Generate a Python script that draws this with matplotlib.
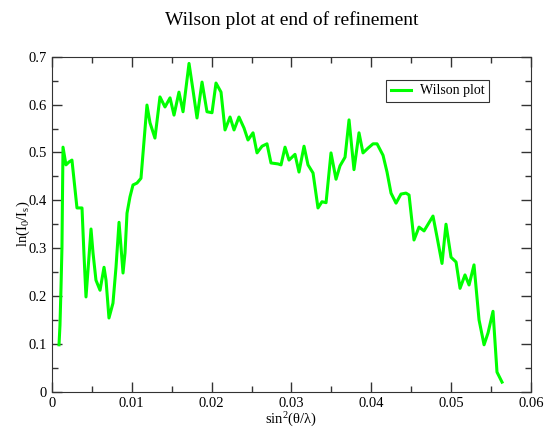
import matplotlib
matplotlib.use("Agg")
import matplotlib.pyplot as plt
from matplotlib.ticker import MultipleLocator, FuncFormatter

plt.rcParams['font.family'] = ['Liberation Serif', 'DejaVu Serif']
plt.rcParams['mathtext.fontset'] = 'custom'
plt.rcParams['mathtext.rm'] = 'Liberation Serif'
plt.rcParams['mathtext.default'] = 'regular'

# sin^2(theta/lambda) vs ln(I0/Is)
sin2 = [0.00088, 0.0010, 0.00113, 0.00125, 0.0013, 0.00138, 0.00175, 0.00213, 0.0025,
        0.00313, 0.00376, 0.0040, 0.00426, 0.00451, 0.00489, 0.00514, 0.00551, 0.00602,
        0.00652, 0.00677, 0.00714, 0.00764, 0.00802, 0.0084, 0.00865, 0.0089, 0.00915,
        0.0094, 0.00977, 0.01015, 0.01065, 0.01115, 0.0119, 0.01228, 0.0129, 0.01353,
        0.01416, 0.01479, 0.01529, 0.01591, 0.01642, 0.01717, 0.01767, 0.01817, 0.0188,
        0.01942, 0.02005, 0.02055, 0.02118, 0.02168, 0.02231, 0.02281, 0.02343, 0.02406,
        0.02456, 0.02519, 0.02569, 0.02632, 0.02694, 0.02744, 0.02832, 0.0287, 0.0292,
        0.0297, 0.03045, 0.03095, 0.03158, 0.03208, 0.03271, 0.03333, 0.03383, 0.03434,
        0.03496, 0.03559, 0.03609, 0.03672, 0.03722, 0.03784, 0.03847, 0.03897, 0.0396,
        0.04023, 0.04073, 0.04148, 0.04198, 0.04248, 0.04311, 0.04373, 0.04436, 0.04474,
        0.04536, 0.04599, 0.04662, 0.04774, 0.04825, 0.04887, 0.04937, 0.05, 0.05063,
        0.05113, 0.05175, 0.05226, 0.05288, 0.05351, 0.05414, 0.05464, 0.05526, 0.05576,
        0.05639]
ln_ratio = [0.098, 0.139, 0.218, 0.302, 0.386, 0.511, 0.474, 0.480, 0.484,
            0.384, 0.384, 0.290, 0.198, 0.254, 0.340, 0.290, 0.233, 0.212,
            0.260, 0.233, 0.154, 0.185, 0.260, 0.354, 0.302, 0.248, 0.290,
            0.373, 0.407, 0.432, 0.436, 0.446, 0.599, 0.562, 0.530, 0.616,
            0.595, 0.614, 0.578, 0.626, 0.585, 0.686, 0.630, 0.572, 0.647,
            0.585, 0.583, 0.645, 0.626, 0.547, 0.574, 0.547, 0.574, 0.551,
            0.526, 0.541, 0.499, 0.513, 0.518, 0.478, 0.476, 0.474, 0.511,
            0.484, 0.496, 0.459, 0.513, 0.474, 0.457, 0.384, 0.397, 0.395,
            0.499, 0.444, 0.472, 0.490, 0.568, 0.464, 0.541, 0.499, 0.509,
            0.518, 0.518, 0.494, 0.459, 0.415, 0.394, 0.413, 0.415, 0.411,
            0.317, 0.344, 0.336, 0.367, 0.323, 0.268, 0.350, 0.281, 0.271,
            0.216, 0.244, 0.223, 0.265, 0.150, 0.098, 0.123, 0.168, 0.041,
            0.020]

fig = plt.figure(figsize=(5.45, 4.33), dpi=100)
ax = fig.add_axes([0.0954, 0.0954, 0.8786, 0.7736])

ax.plot(sin2, ln_ratio, color='#00ff00', lw=2.2, label='Wilson plot')

ax.set_xlim(0, 0.06)
ax.set_ylim(0, 0.7)
ax.xaxis.set_major_locator(MultipleLocator(0.01))
ax.xaxis.set_minor_locator(MultipleLocator(0.005))
ax.yaxis.set_major_locator(MultipleLocator(0.1))
ax.yaxis.set_minor_locator(MultipleLocator(0.05))
fmt = FuncFormatter(lambda v, p: '%g' % round(v, 4))
ax.xaxis.set_major_formatter(fmt)
ax.yaxis.set_major_formatter(fmt)
ax.tick_params(which='both', direction='in', top=True, right=True, labelsize=10.5, color='#333333')
ax.tick_params(which='major', length=7, width=1)
ax.tick_params(which='minor', length=4, width=1)
for s in ax.spines.values():
    s.set_color('#333333')

ax.set_title('Wilson plot at end of refinement', fontsize=14, pad=23)
ax.set_xlabel(r'sin$^2$(θ/λ)', fontsize=10.5, labelpad=1)
ax.set_ylabel(r'ln(I$_0$/I$_s$)', fontsize=10.5, labelpad=-2)

leg = ax.legend(loc='upper right', bbox_to_anchor=(0.913, 0.932), borderaxespad=0,
                fontsize=10, frameon=True, fancybox=False, edgecolor='black',
                handlelength=1.5, handletextpad=0.6, borderpad=0.35)
leg.get_frame().set_linewidth(0.8)

fig.savefig('out.png', dpi=100)
